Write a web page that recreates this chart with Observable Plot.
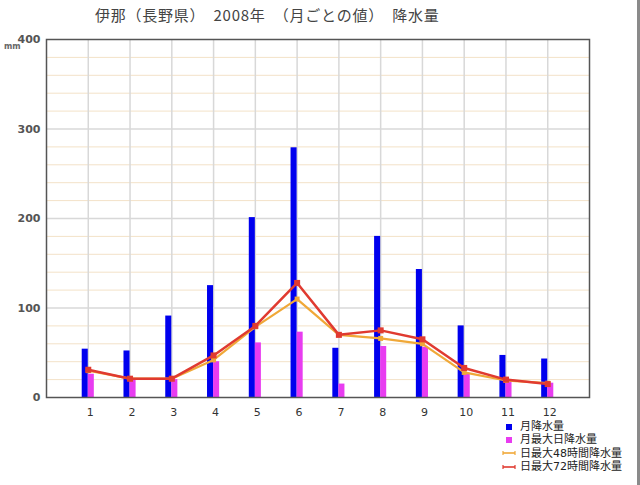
<!DOCTYPE html>
<html>
<head>
<meta charset="utf-8">
<script src="https://cdn.jsdelivr.net/npm/d3@7"></script>
<script src="https://cdn.jsdelivr.net/npm/@observablehq/plot@0.6"></script>
<style>
  html, body { margin: 0; padding: 0; background: #fff; }
  #wrap { position: relative; width: 640px; height: 485px; overflow: hidden; }
  #chart { position: absolute; left: 0; top: 0; }
  #title { position: absolute; left: 95px; top: 4px; font-family: "Noto Sans CJK JP"; font-size: 15px; letter-spacing: 0.75px; color: #444; white-space: pre; line-height: 22px; }
  #unit { position: absolute; left: 4px; top: 42px; font-family: "DejaVu Sans"; font-size: 8px; font-weight: bold; color: #666; }
  #legend { position: absolute; left: 501px; top: 420px; font-family: "DejaVu Sans", "Noto Sans CJK JP"; font-size: 11px; color: #222; white-space: nowrap; }
  .row { height: 13.3px; line-height: 13.3px; display: flex; align-items: center; }
  .row svg { width: 16px; height: 12px; margin-right: 3px; flex: none; }
  #edge { position: absolute; left: 637px; top: 0; width: 3px; height: 485px; background: #8a8a8a; }
</style>
</head>
<body>
<div id="wrap">
  <div id="chart"></div>
  <div id="title"></div>
  <div id="unit">mm</div>
  <div id="legend"></div>
  <div id="edge"></div>
</div>
<script>
const titleText = "伊那（長野県）　2008年　（月ごとの値）　降水量";
const months = [1, 2, 3, 4, 5, 6, 7, 8, 9, 10, 11, 12];
const monthlyPrecip = [54, 52, 91, 125, 201, 279, 55, 180, 143, 80, 47, 43];
const dailyMax = [26, 20, 20, 40, 61, 73, 15, 57, 56, 27, 19, 16];
const max48h = [30, 21, 21, 42, 79, 110, 70, 66, 60, 28, 19, 16];
const max72h = [31, 21, 21, 47, 80, 128, 70, 75, 65, 33, 20, 15];
const yTicks = [0, 100, 200, 300, 400];
const minorTicks = d3.range(20, 400, 20).filter(v => v % 100 !== 0);
const seriesNames = ["月降水量", "月最大日降水量", "日最大48時間降水量", "日最大72時間降水量"];
const colors = ["#0000ee", "#e83cf0", "#f0a838", "#e03a30"];

document.getElementById("title").textContent = titleText;

const data = months.map((m, i) => ({
  m, monthly: monthlyPrecip[i], daily: dailyMax[i], h48: max48h[i], h72: max72h[i]
}));

const barW = 0.145;

const chart = Plot.plot({
  width: 640,
  height: 425,
  marginLeft: 46,
  marginRight: 51,
  marginTop: 39,
  marginBottom: 28,
  style: { fontFamily: "DejaVu Sans", fontSize: "11px", background: "transparent" },
  x: { type: "linear", domain: [0, 13] },
  y: { domain: [0, 400] },
  marks: [
    Plot.ruleY(minorTicks, { stroke: "#f3e2c8", strokeWidth: 1 }),
    Plot.ruleY([100, 200, 300], { stroke: "#d8d8d8", strokeWidth: 1.5 }),
    Plot.ruleX(months, { stroke: "#d8d8d8", strokeWidth: 1.5 }),
    Plot.rectY(data, { x1: d => d.m - barW, x2: d => d.m, y1: 0, y2: "monthly", fill: colors[0] }),
    Plot.rectY(data, { x1: d => d.m, x2: d => d.m + barW, y1: 0, y2: "daily", fill: colors[1] }),
    Plot.line(data, { x: "m", y: "h48", stroke: colors[2], strokeWidth: 2.2 }),
    Plot.dot(data, { x: "m", y: "h48", symbol: "square", r: 2.8, fill: colors[2] }),
    Plot.line(data, { x: "m", y: "h72", stroke: colors[3], strokeWidth: 2.5 }),
    Plot.dot(data, { x: "m", y: "h72", symbol: "square", r: 3.4, fill: colors[3] }),
    Plot.frame({ stroke: "#555", strokeWidth: 1.5 }),
    Plot.axisY({ ticks: yTicks, tickSize: 0, tickPadding: 6, fill: "#555", fontWeight: "bold", fontSize: 11, label: null }),
    Plot.axisX({ ticks: months, tickSize: 0, tickPadding: 11, dx: 2, fill: "#333", fontSize: 11, label: null, tickFormat: d => String(d) })
  ]
});
document.getElementById("chart").appendChild(chart);

const legend = document.getElementById("legend");
const glyphs = [
  c => `<rect x="5" y="3" width="6" height="6" fill="${c}"/>`,
  c => `<rect x="5" y="3" width="6" height="6" fill="${c}"/>`,
  c => `<line x1="2" y1="6" x2="14" y2="6" stroke="${c}" stroke-width="1.6"/><line x1="2" y1="4" x2="2" y2="8" stroke="${c}" stroke-width="1.2"/><line x1="14" y1="4" x2="14" y2="8" stroke="${c}" stroke-width="1.2"/>`,
  c => `<line x1="2" y1="6" x2="14" y2="6" stroke="${c}" stroke-width="1.6"/><line x1="2" y1="4" x2="2" y2="8" stroke="${c}" stroke-width="1.2"/><line x1="14" y1="4" x2="14" y2="8" stroke="${c}" stroke-width="1.2"/>`
];
seriesNames.forEach((name, i) => {
  const row = document.createElement("div");
  row.className = "row";
  row.innerHTML = `<svg viewBox="0 0 16 12">${glyphs[i](colors[i])}</svg><span>${name}</span>`;
  legend.appendChild(row);
});
</script>
</body>
</html>
